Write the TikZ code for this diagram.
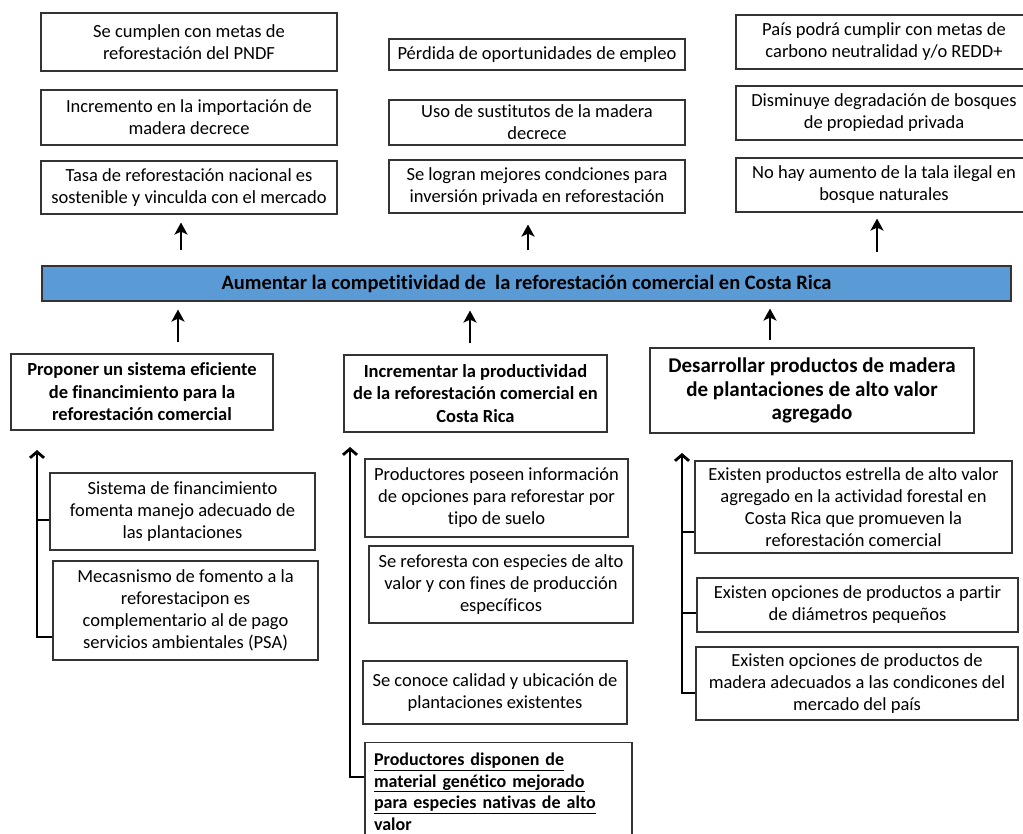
\documentclass[tikz,border=0pt]{standalone}
\usepackage{fontspec}
\setmainfont{Carlito}[Ligatures=NoCommon]
\usepackage{tikz}
\usetikzlibrary{positioning,arrows.meta}

\definecolor{bannerblue}{HTML}{5B9BD5}

\begin{document}
\begin{tikzpicture}[x=1pt, y=-1pt,
    box/.style={draw=black!80, line width=1.1pt, align=center, inner sep=0pt,
        font=\fontsize{18.5}{22}\selectfont},
    titlebox/.style={box, font=\bfseries\fontsize{18.5}{22.5}\selectfont},
    uparrow/.style={-{Stealth[length=12pt, width=13pt, inset=3pt]}, line width=2.6pt},
    trunk/.style={-{Straight Barb[length=6pt, width=14pt]}, line width=2.8pt, line join=miter},
    branch/.style={line width=2.8pt}]

    \useasboundingbox (0,0) rectangle (1023,834);

    % Top row: effects (left column)
    \node[box, minimum width=296pt, minimum height=58pt] (lt1) at (189,42) {Se cumplen con metas de\\reforestación del PNDF};
    \node[box, minimum width=296pt, minimum height=55pt] (lt2) at (189,117.5) {Incremento en la importación de\\madera decrece};
    \node[box, minimum width=296pt, minimum height=53pt] (lt3) at (189,187.5) {Tasa de reforestación nacional es\\sostenible y vinculda con el mercado};

    % Top row: effects (middle column)
    \node[box, minimum width=296pt, minimum height=31pt] (mt1) at (537,54.5) {Pérdida de oportunidades de empleo};
    \node[box, minimum width=296pt, minimum height=45pt] (mt2) at (537,122.5) {Uso de sustitutos de la madera\\decrece};
    \node[box, minimum width=296pt, minimum height=53pt] (mt3) at (537,186.5) {Se logran mejores condciones para\\inversión privada en reforestación};

    % Top row: effects (right column, runs off the page)
    \node[box, minimum width=296pt, minimum height=54pt] (rt1) at (884,42) {País podrá cumplir con metas de\\carbono neutralidad y/o REDD+};
    \node[box, minimum width=296pt, minimum height=54pt] (rt2) at (884,113) {Disminuye degradación de bosques\\de propiedad privada};
    \node[box, minimum width=296pt, minimum height=54pt] (rt3) at (884,185) {No hay aumento de la tala ilegal en\\bosque naturales};

    % Main objective
    \node[draw=black!80, line width=1.1pt, fill=bannerblue, minimum width=969pt, minimum height=35pt,
        inner sep=0pt, font=\bfseries\fontsize{20.5}{22}\selectfont] (banner) at (526.5,283.5)
        {Aumentar la competitividad de\ \ la reforestación comercial en Costa Rica};

    \draw[uparrow, shorten <=15pt, shorten >=8pt] ([xshift=-8pt]lt3.south |- banner.north) -- ([xshift=-8pt]lt3.south);
    \draw[uparrow, shorten <=15pt, shorten >=11pt] ([xshift=-9pt]mt3.south |- banner.north) -- ([xshift=-9pt]mt3.south);
    \draw[uparrow, shorten <=13pt, shorten >=6pt] ([xshift=-7pt]rt3.south |- banner.north) -- ([xshift=-7pt]rt3.south);

    % Specific objectives
    \node[titlebox, minimum width=262pt, minimum height=76pt] (lm) at (142,392) {Proponer un sistema eficiente\\de financimiento para la\\reforestación comercial};
    \node[titlebox, minimum width=263pt, minimum height=77pt] (mm) at (475.5,393.5) {Incrementar la productividad\\de la reforestación comercial en\\Costa Rica};
    \node[titlebox, minimum width=324pt, minimum height=85pt, font=\bfseries\fontsize{21}{23.5}\selectfont] (rm) at (812,390.5) {Desarrollar productos de madera\\de plantaciones de alto valor\\agregado};

    \draw[uparrow, shorten <=11pt, shorten >=8pt] ([xshift=36pt]lm.north) -- ([xshift=36pt]lm.north |- banner.south);
    \draw[uparrow, shorten <=11pt, shorten >=9pt] ([xshift=-5.5pt]mm.north) -- ([xshift=-5.5pt]mm.north |- banner.south);
    \draw[uparrow, shorten <=7pt, shorten >=7pt] ([xshift=-42pt]rm.north) -- ([xshift=-42pt]rm.north |- banner.south);

    % Results under objective 1
    \node[box, minimum width=265pt, minimum height=77pt] (fA) at (182.5,511.5) {Sistema de financimiento\\fomenta manejo adecuado de\\las plantaciones};
    \node[box, minimum width=265pt, minimum height=99pt] (fB) at (185.5,610.5) {Mecasnismo de fomento a la\\reforestacipon es\\complementario al de pago\\servicios ambientales (PSA)};

    \coordinate (lfoot) at (37,637);
    \coordinate (ltip) at (37,450);
    \coordinate (lmid) at (37,520);
    \draw[trunk] (lfoot -| fB.west) -- (lfoot) -- (ltip);
    \draw[branch] (lmid) -- (lmid -| fA.west);

    % Results under objective 2
    \node[box, minimum width=263pt, minimum height=78pt] (pC) at (496.5,498) {Productores poseen información\\de opciones para reforestar por\\tipo de suelo};
    \node[box, minimum width=264pt, minimum height=77pt] (pD) at (501,584.5) {Se reforesta con especies de alto\\valor y con fines de producción\\específicos};
    \node[box, minimum width=264pt, minimum height=63pt] (pE) at (495,692.5) {Se conoce calidad y ubicación de\\plantaciones existentes};
    \node[box, minimum width=267pt, minimum height=98pt, text width=249pt, align=left,
        font=\bfseries\fontsize{18}{21.5}\selectfont] (pF) at (498.5,791.5)
        {\underline{Productores disponen de}\\\underline{material genético mejorado}\\\underline{para especies nativas de alto}\\valor};

    \coordinate (pfoot) at (350,777);
    \coordinate (ptip) at (350,447);
    \draw[trunk] (pfoot -| pF.west) -- (pfoot) -- (ptip);

    % Results under objective 3
    \node[box, minimum width=317pt, minimum height=92pt] (qG) at (853.5,507) {Existen productos estrella de alto valor\\agregado en la actividad forestal en\\Costa Rica que promueven\ la\\reforestación comercial};
    \node[box, minimum width=321pt, minimum height=54pt] (qH) at (857.5,605) {Existen opciones de productos a partir\\de diámetros pequeños};
    \node[box, minimum width=322pt, minimum height=73pt] (qI) at (857,683.5) {Existen opciones de productos de\\madera adecuados a las condicones del\\mercado del país};

    \coordinate (rfoot) at (682,693);
    \coordinate (rtip) at (682,453);
    \coordinate (rmid1) at (682,532);
    \coordinate (rmid2) at (682,613);
    \draw[trunk] (rfoot -| qI.west) -- (rfoot) -- (rtip);
    \draw[branch] (rmid1) -- (rmid1 -| qG.west);
    \draw[branch] (rmid2) -- (rmid2 -| qH.west);

\end{tikzpicture}
\end{document}
